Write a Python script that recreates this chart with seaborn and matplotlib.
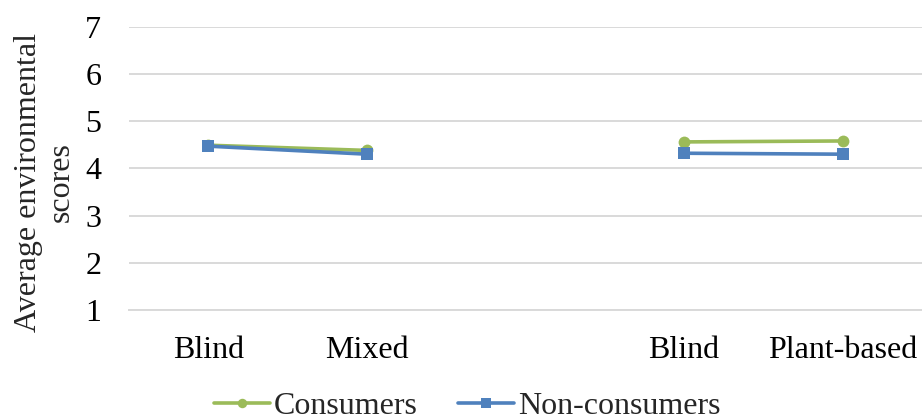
import numpy as np
import pandas as pd
import matplotlib
matplotlib.use("Agg")
import matplotlib.pyplot as plt
import seaborn as sns

# Category slots (the empty slot separates the two comparisons)
categories = ["Blind", "Mixed", "", "Blind", "Plant-based"]
consumers = [4.49, 4.38, np.nan, 4.56, 4.58]
non_consumers = [4.47, 4.30, np.nan, 4.32, 4.30]
segments = ["A", "A", None, "B", "B"]
groups = ["Consumers", "Non-consumers"]
y_ticks = [1, 2, 3, 4, 5, 6, 7]

rows = []
for grp, vals in zip(groups, [consumers, non_consumers]):
    for pos, (v, seg) in enumerate(zip(vals, segments)):
        if not np.isnan(v):
            rows.append({"pos": pos, "score": v, "group": grp, "segment": seg})
df = pd.DataFrame(rows)

sns.set_theme(style="white")
plt.rcParams["font.family"] = ["Liberation Serif", "DejaVu Serif"]
FS = 23

fig = plt.figure(figsize=(9.22, 4.19), dpi=100)
ax = fig.add_axes([129 / 922, 1 - 310 / 419, 1 - 129 / 922, (310 - 26.7) / 419])

palette = {"Consumers": "#9BBB59", "Non-consumers": "#4F81BD"}
sns.lineplot(
    data=df, x="pos", y="score", hue="group", style="group",
    units="segment", estimator=None, hue_order=groups, style_order=groups,
    palette=palette, markers={"Consumers": "o", "Non-consumers": "s"},
    dashes=False, linewidth=2.6, markersize=8.5, markeredgewidth=0,
    ax=ax, legend=True,
)

ax.set_ylim(1, 7)
ax.set_xlim(-0.5, len(categories) - 0.5)
ax.set_yticks(y_ticks)
ax.set_xticks(range(len(categories)))
ax.set_xticklabels(categories)
ax.yaxis.grid(True, color="#D9D9D9", linewidth=1.4)
ax.set_axisbelow(True)
for side in ["top", "right", "left"]:
    ax.spines[side].set_visible(False)
ax.spines["bottom"].set_color("#D9D9D9")
ax.spines["bottom"].set_linewidth(1.4)
ax.tick_params(axis="both", length=0, labelsize=FS, colors="black")
ax.tick_params(axis="y", pad=20)
ax.tick_params(axis="x", pad=19)
ax.set_xlabel("")
ax.set_ylabel("")

fig.text(45 / 922, 1 - 182 / 419, "Average environmental\nscores",
         rotation=90, ha="center", va="center", multialignment="center",
         fontsize=FS, linespacing=1.2)

handles, labels = ax.get_legend_handles_labels()
ax.get_legend().remove()
fig.legend(handles, labels, loc="center", bbox_to_anchor=(467 / 922, 1 - 406 / 419),
           ncol=2, frameon=False, fontsize=FS, handlelength=1.75, markerscale=0.8,
           handletextpad=0.13, columnspacing=1.25, borderpad=0, borderaxespad=0)

fig.savefig("out.png", dpi=100)
